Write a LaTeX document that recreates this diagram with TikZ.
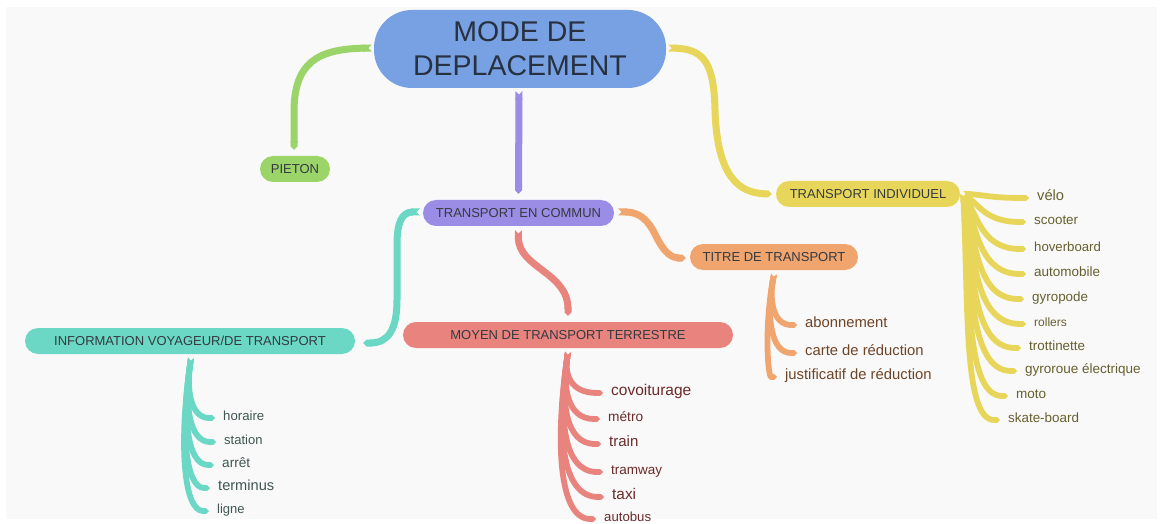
\documentclass[tikz,border=0pt]{standalone}
\usepackage{fontspec}
\setmainfont{Liberation Sans}
\usetikzlibrary{arrows.meta,calc}
\definecolor{bgc}{HTML}{F9F9F9}
\definecolor{cblue}{HTML}{77A1E3}
\definecolor{cgreen}{HTML}{9BD468}
\definecolor{cpurple}{HTML}{9B8DE6}
\definecolor{cyellow}{HTML}{E8D65A}
\definecolor{corange}{HTML}{F0A46E}
\definecolor{cteal}{HTML}{6AD8C4}
\definecolor{cred}{HTML}{E8837E}
\definecolor{troot}{HTML}{27313F}
\definecolor{tnode}{HTML}{353A40}
\definecolor{tteal}{HTML}{3F5652}
\definecolor{tred}{HTML}{6B2B2B}
\definecolor{torange}{HTML}{6E4426}
\definecolor{tyellow}{HTML}{66602E}
\begin{document}
\begin{tikzpicture}[x=1pt,y=-1pt,
  topic/.style={rounded corners=13pt, minimum height=26pt, inner sep=0pt,
    font=\fontsize{13}{15}\selectfont, text=tnode},
  leaf/.style={anchor=west, inner sep=0pt, text height=.72em, text depth=.2em},
  mainlink/.style={draw=#1, line width=7pt, {Triangle Cap[reversed]}-{Triangle Cap}},
  leaflink/.style={draw=#1, line width=5.8pt, {Triangle Cap[reversed]}-{Triangle Cap}}]
\useasboundingbox (0,0) rectangle (1163,524);
\fill[white] (0,0) rectangle (1163,524);
\fill[bgc] (6,7) rectangle (1157,519);

% nodes
\node[fill=cblue, rounded corners=38pt, minimum width=292pt, minimum height=78pt,
  inner sep=0pt, align=center, text=troot, font=\fontsize{28.5}{34}\selectfont]
  (root) at (520,49) {MODE DE\\DEPLACEMENT};
\node[topic, fill=cgreen, minimum width=70pt] (pieton) at (295,169) {PIETON};
\node[topic, fill=cpurple, minimum width=191pt] (tec) at (518.5,213) {TRANSPORT EN COMMUN};
\node[topic, fill=cyellow, minimum width=184pt] (indiv) at (868,194) {TRANSPORT INDIVIDUEL};
\node[topic, fill=corange, minimum width=168pt] (titre) at (774,257) {TITRE DE TRANSPORT};
\node[topic, fill=cteal, minimum width=330pt] (info) at (190,341) {INFORMATION VOYAGEUR/DE TRANSPORT};
\node[topic, fill=cred, minimum width=330pt] (moyen) at (568,335) {MOYEN DE TRANSPORT TERRESTRE};

% main connectors
\draw[mainlink=cgreen] ($(root.west)+(-2,-1)$) .. controls (318,49) and (294,62) .. (294,112) -- ($(pieton.north)+(-1,-6)$);
\draw[mainlink=cpurple] ($(root.south)+(-1,3)$) -- ($(tec.north)+(0,-6)$);
\draw[mainlink=cyellow] ($(root.east)+(2,-1)$) .. controls (705,49) and (714,65) .. (715,110) .. controls (717,178) and (740,193) .. ($(indiv.west)+(-4,0)$);
\draw[mainlink=cteal] ($(tec.west)+(-3,-1)$) .. controls (402,212) and (397,222) .. (397,245) -- (397,300) .. controls (397,330) and (388,343) .. ($(info.east)+(8,2)$);
\draw[mainlink=cred] ($(tec.south)+(0,4)$) .. controls (518,268) and (568,272) .. ($(moyen.north)+(0,-6)$);
\draw[mainlink=corange] ($(tec.east)+(4,-1)$) .. controls (645,212) and (652,228) .. (658,240) .. controls (665,253) and (672,258) .. ($(titre.west)+(-4,1)$);

% teal leaves
\foreach \i/\t/\yy/\xx/\fs in {1/horaire/415/223/13.2, 2/station/439/224/13, 3/arrêt/462/222/13.6, 4/terminus/485/218/14.6, 5/ligne/508/217/13}{
  \node[leaf, text=tteal, font=\fontsize{\fs}{\fs}\selectfont] (teal\i) at (\xx,\yy+3) {\t};
  \pgfmathsetmacro\d{\yy-358}
  \pgfmathsetmacro\ca{191-0.08*\d}
  \pgfmathsetmacro\cb{358+0.55*\d}
  \pgfmathsetmacro\cc{191-0.08*\d+4}
  \draw[leaflink=cteal] ($(info.south)+(1,4)$) .. controls (\ca,\cb) and (\cc,\yy+3) .. ($(teal\i.west)+(-8,0)$);
}

% red leaves
\foreach \i/\t/\yy/\xx/\fs in {1/covoiturage/390/611/15.5, 2/métro/416/608/13.7, 3/train/441/609/15, 4/tramway/469/611/13.5, 5/taxi/494/612/15.4, 6/autobus/516/604/13.2}{
  \node[leaf, text=tred, font=\fontsize{\fs}{\fs}\selectfont] (red\i) at (\xx,\yy+3) {\t};
  \pgfmathsetmacro\d{\yy-352}
  \pgfmathsetmacro\ca{568-0.08*\d}
  \pgfmathsetmacro\cb{352+0.55*\d}
  \pgfmathsetmacro\cc{568-0.08*\d+4}
  \draw[leaflink=cred] ($(moyen.south)+(0,4)$) .. controls (\ca,\cb) and (\cc,\yy+3) .. ($(red\i.west)+(-8,0)$);
}

% orange leaves
\foreach \i/\t/\yy/\xx/\fs in {1/abonnement/322/805/14.8, 2/carte de réduction/350/805/14.8, 3/justificatif de réduction/374/785/14.8}{
  \node[leaf, text=torange, font=\fontsize{\fs}{\fs}\selectfont] (or\i) at (\xx,\yy+3) {\t};
  \pgfmathsetmacro\d{\yy-274}
  \pgfmathsetmacro\ca{774-0.1*\d}
  \pgfmathsetmacro\cb{274+0.55*\d}
  \pgfmathsetmacro\cc{774-0.1*\d+4}
  \draw[leaflink=corange] ($(titre.south)+(0,4)$) .. controls (\ca,\cb) and (\cc,\yy+3) .. ($(or\i.west)+(-8,0)$);
}

% yellow leaves
\foreach \i/\t/\yy/\xx/\fs in {1/vélo/195/1037/14.7, 2/scooter/219/1034/13.4, 3/hoverboard/246/1034/13.2, 4/automobile/271/1034/13.5, 5/gyropode/296/1032/13.4, 6/rollers/321/1034/12, 7/trottinette/345/1029/13.4, 8/gyroroue électrique/368/1025/13.5, 9/moto/393/1016/13.5, 10/skate-board/417/1008/13.4}{
  \node[leaf, text=tyellow, font=\fontsize{\fs}{\fs}\selectfont] (ye\i) at (\xx,\yy+3) {\t};
  \pgfmathsetmacro\d{\yy-194}
  \pgfmathsetmacro\ca{982-0.06*\d}
  \pgfmathsetmacro\cb{194+0.5*\d}
  \pgfmathsetmacro\cc{990-0.12*\d}
  \draw[leaflink=cyellow] ($(indiv.east)+(3,0)$) .. controls (\ca,\cb) and (\cc,\yy+3) .. ($(ye\i.west)+(-8,0)$);
}
\end{tikzpicture}
\end{document}
